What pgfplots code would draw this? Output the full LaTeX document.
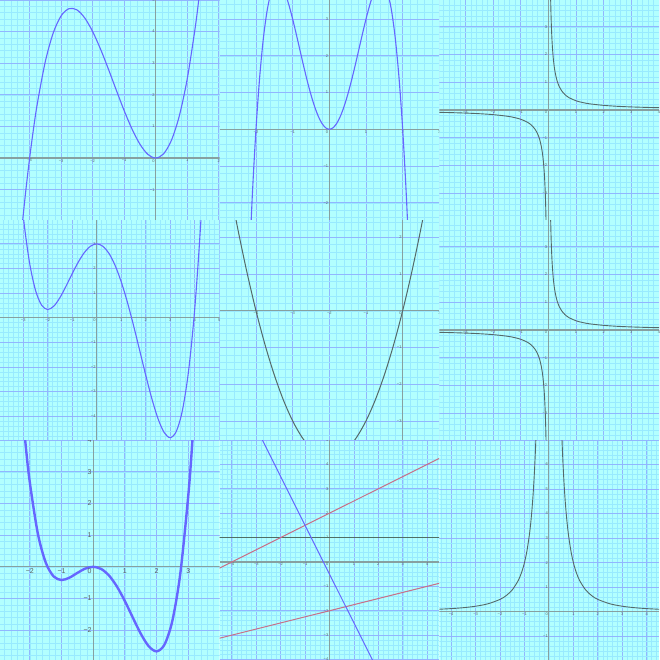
\documentclass[border=0pt]{standalone}
\usepackage{fontspec}
\setmainfont{Liberation Sans}
\usepackage{pgfplots}
\pgfplotsset{compat=1.18}
\definecolor{bgc}{RGB}{178,255,255}
\definecolor{minc}{RGB}{152,234,255}
\definecolor{majc}{RGB}{145,182,255}
\definecolor{axc}{RGB}{135,160,160}
\definecolor{labc}{RGB}{90,105,105}
\definecolor{bluec}{RGB}{102,102,255}
\definecolor{grayc}{RGB}{85,105,105}
\definecolor{redc}{RGB}{200,110,135}
\definecolor{hlc}{RGB}{80,110,100}
\newcommand\tlab{\pgfmathtruncatemacro\tv{round(\tick)}\ifnum\tv<0 −\number-\tv\else\tv\fi}
\pgfplotsset{panel/.style={scale only axis, width=219.67pt, height=220pt, anchor=north west,
  axis lines=middle, axis line style={axc, line width=1.1pt, -},
  axis background/.style={fill=bgc},
  grid=both, minor grid style={minc, line width=0.4pt}, major grid style={majc, line width=0.8pt},
  xtick={-8,-7,...,-1,1,2,...,8}, ytick={-8,-7,...,-1,1,2,...,8},
  minor xtick={-8,-7.8,...,8}, minor ytick={-8,-7.8,...,8},
  major tick length=0pt, minor tick length=0pt,
  xticklabel={\tlab}, yticklabel={\tlab},
  tick label style={font=\fontsize{4}{4.5}\selectfont, text=labc, inner sep=1pt},
  clip=true}}
\newcommand\orig{\node[anchor=north east, font=\fontsize{4}{4.5}\selectfont, text=labc, inner sep=1pt] at (axis cs:0,0) {0};}
\begin{document}
\begin{tikzpicture}
\useasboundingbox (0pt,0pt) rectangle (659pt,-660pt);
% P1
\begin{scope}\clip (0pt,0pt) rectangle (219.67pt,-220pt);
\begin{axis}[panel, at={(0pt,0pt)}, xmin=-4.94, xmax=2.03, ymin=-1.96, ymax=5.0]
\addplot[bluec, line width=1.1pt, smooth] coordinates {(-4.25,-2.258)(-4.125,-1.063)(-4,0)(-3.875,0.938)(-3.75,1.758)(-3.5,3.063)(-3.25,3.961)(-3,4.5)(-2.75,4.727)(-2.5,4.688)(-2.25,4.430)(-2,4)(-1.75,3.445)(-1.5,2.813)(-1.25,2.148)(-1,1.5)(-0.75,0.914)(-0.5,0.438)(-0.25,0.117)(0,0)(0.25,0.133)(0.5,0.563)(0.75,1.336)(1,2.5)(1.25,4.102)(1.375,5.081)(1.5,6.188)};
\orig
\end{axis}\end{scope}
% P2
\begin{scope}\clip (219.67pt,0pt) rectangle (439.33pt,-220pt);
\begin{axis}[panel, at={(219.67pt,0pt)}, xmin=-2.99, xmax=3.0, ymin=-2.47, ymax=3.52]
\addplot[bluec, line width=1.1pt, smooth] coordinates {(-2.2,-4.066)(-2.1,-1.808)(-2,0)(-1.9,1.408)(-1.8,2.462)(-1.7,3.208)(-1.6,3.686)(-1.5,3.938)(-1.4,3.998)(-1.3,3.904)(-1.2,3.686)(-1.1,3.376)(-1,3)(-0.9,2.584)(-0.8,2.150)(-0.7,1.720)(-0.6,1.310)(-0.5,0.938)(-0.4,0.614)(-0.3,0.352)(-0.2,0.158)(-0.1,0.040)(0,0)(0.1,0.040)(0.2,0.158)(0.3,0.352)(0.4,0.614)(0.5,0.938)(0.6,1.310)(0.7,1.720)(0.8,2.150)(0.9,2.584)(1,3)(1.1,3.376)(1.2,3.686)(1.3,3.904)(1.4,3.998)(1.5,3.938)(1.6,3.686)(1.7,3.208)(1.8,2.462)(1.9,1.408)(2,0)(2.1,-1.808)(2.2,-4.066)};
\orig
\end{axis}\end{scope}
% P3
\begin{scope}\clip (439.33pt,0pt) rectangle (659pt,-220pt);
\begin{axis}[panel, at={(439.33pt,0pt)}, xmin=-3.94, xmax=4.0, ymin=-3.97, ymax=3.97]
\addplot[grayc, line width=0.9pt, smooth] coordinates {(0.07,4.762)(0.08,4.167)(0.09,3.704)(0.1,3.333)(0.11,3.030)(0.12,2.778)(0.135,2.469)(0.15,2.222)(0.175,1.905)(0.2,1.667)(0.225,1.481)(0.25,1.333)(0.3,1.111)(0.35,0.952)(0.4,0.833)(0.5,0.667)(0.6,0.556)(0.75,0.444)(1,0.333)(1.25,0.267)(1.5,0.222)(2,0.167)(2.5,0.133)(3,0.111)(3.5,0.095)(4,0.083)(4.2,0.079)};
\addplot[grayc, line width=0.9pt, smooth] coordinates {(-4.2,-0.079)(-4,-0.083)(-3.5,-0.095)(-3,-0.111)(-2.5,-0.133)(-2,-0.167)(-1.5,-0.222)(-1.25,-0.267)(-1,-0.333)(-0.75,-0.444)(-0.6,-0.556)(-0.5,-0.667)(-0.4,-0.833)(-0.35,-0.952)(-0.3,-1.111)(-0.25,-1.333)(-0.225,-1.481)(-0.2,-1.667)(-0.175,-1.905)(-0.15,-2.222)(-0.135,-2.469)(-0.12,-2.778)(-0.11,-3.030)(-0.1,-3.333)(-0.09,-3.704)(-0.08,-4.167)(-0.07,-4.762)};
\orig
\end{axis}\end{scope}
% P4
\begin{scope}\clip (0pt,-220pt) rectangle (219.67pt,-440pt);
\begin{axis}[panel, at={(0pt,-220pt)}, xmin=-3.95, xmax=5.02, ymin=-4.97, ymax=3.97]
\addplot[bluec, line width=1.1pt, smooth] coordinates {(-3.25,6.823)(-3,4.125)(-2.75,2.271)(-2.5,1.112)(-2.25,0.508)(-2,0.333)(-1.75,0.471)(-1.5,0.820)(-1.25,1.287)(-1,1.792)(-0.75,2.266)(-0.5,2.654)(-0.25,2.909)(0,3)(0.25,2.904)(0.5,2.612)(0.75,2.125)(1,1.458)(1.25,0.635)(1.5,-0.305)(1.75,-1.315)(2,-2.333)(2.25,-3.288)(2.5,-4.096)(2.75,-4.661)(3,-4.875)(3.25,-4.619)(3.5,-3.763)(3.75,-2.164)(4,0.333)(4.25,3.894)(4.5,8.695)};
\orig
\end{axis}\end{scope}
% P5
\begin{scope}\clip (219.67pt,-220pt) rectangle (439.33pt,-440pt);
\begin{axis}[panel, at={(219.67pt,-220pt)}, xmin=-4.99, xmax=1.0, ymin=-3.52, ymax=2.47]
\addplot[grayc, line width=1.0pt, smooth] coordinates {(-5,5)(-4.75,3.563)(-4.5,2.25)(-4.25,1.063)(-4,0)(-3.75,-0.938)(-3.5,-1.75)(-3.25,-2.438)(-3,-3)(-2.75,-3.438)(-2.5,-3.75)(-2.25,-3.938)(-2,-4)(-1.75,-3.938)(-1.5,-3.75)(-1.25,-3.438)(-1,-3)(-0.75,-2.438)(-0.5,-1.75)(-0.25,-0.938)(0,0)(0.25,1.063)(0.5,2.25)(0.75,3.563)(1,5)};
\orig
\end{axis}\end{scope}
% P6
\begin{scope}\clip (439.33pt,-220pt) rectangle (659pt,-440pt);
\begin{axis}[panel, at={(439.33pt,-220pt)}, xmin=-3.94, xmax=4.0, ymin=-3.97, ymax=3.97]
\addplot[grayc, line width=0.9pt, smooth] coordinates {(0.07,4.762)(0.08,4.167)(0.09,3.704)(0.1,3.333)(0.11,3.030)(0.12,2.778)(0.135,2.469)(0.15,2.222)(0.175,1.905)(0.2,1.667)(0.225,1.481)(0.25,1.333)(0.3,1.111)(0.35,0.952)(0.4,0.833)(0.5,0.667)(0.6,0.556)(0.75,0.444)(1,0.333)(1.25,0.267)(1.5,0.222)(2,0.167)(2.5,0.133)(3,0.111)(3.5,0.095)(4,0.083)(4.2,0.079)};
\addplot[grayc, line width=0.9pt, smooth] coordinates {(-4.2,-0.079)(-4,-0.083)(-3.5,-0.095)(-3,-0.111)(-2.5,-0.133)(-2,-0.167)(-1.5,-0.222)(-1.25,-0.267)(-1,-0.333)(-0.75,-0.444)(-0.6,-0.556)(-0.5,-0.667)(-0.4,-0.833)(-0.35,-0.952)(-0.3,-1.111)(-0.25,-1.333)(-0.225,-1.481)(-0.2,-1.667)(-0.175,-1.905)(-0.15,-2.222)(-0.135,-2.469)(-0.12,-2.778)(-0.11,-3.030)(-0.1,-3.333)(-0.09,-3.704)(-0.08,-4.167)(-0.07,-4.762)};
\orig
\end{axis}\end{scope}
% P7
\begin{scope}\clip (0pt,-440pt) rectangle (219.67pt,-660pt);
\begin{axis}[panel, at={(0pt,-440pt)}, xmin=-2.94, xmax=3.99, ymin=-2.94, ymax=4.0,
  tick label style={font=\fontsize{7}{8}\selectfont, text={rgb,255:red,90;green,95;blue,95}, inner sep=1.5pt}]
\addplot[bluec, line width=2.4pt, smooth] coordinates {(-2.25,5.142)(-2.125,3.781)(-2,2.667)(-1.75,1.068)(-1.5,0.141)(-1.25,-0.301)(-1,-0.417)(-0.75,-0.343)(-0.5,-0.193)(-0.25,-0.056)(0,0)(0.25,-0.067)(0.5,-0.276)(0.75,-0.624)(1,-1.083)(1.25,-1.603)(1.5,-2.109)(1.75,-2.504)(2,-2.667)(2.25,-2.452)(2.5,-1.692)(2.75,-0.197)(3,2.25)(3.125,3.903)(3.25,5.886)};
\node[anchor=north east, font=\fontsize{7}{8}\selectfont, text={rgb,255:red,90;green,95;blue,95}, inner sep=1.5pt] at (axis cs:0,0) {0};
\end{axis}\end{scope}
% P8
\begin{scope}\clip (219.67pt,-440pt) rectangle (439.33pt,-660pt);
\begin{axis}[panel, at={(219.67pt,-440pt)}, xmin=-4.5, xmax=4.5, ymin=-4.02, ymax=5.0]
\addplot[hlc, line width=1.0pt] coordinates {(-4.6,1)(4.6,1)};
\addplot[redc, line width=1.0pt] coordinates {(-4.6,-0.3)(4.6,4.3)};
\addplot[redc, line width=1.0pt] coordinates {(-4.6,-3.15)(4.6,-0.85)};
\addplot[bluec, line width=1.0pt] coordinates {(-3,5.5)(2,-4.5)};
\orig
\end{axis}\end{scope}
% P9
\begin{scope}\clip (439.33pt,-440pt) rectangle (659pt,-660pt);
\begin{axis}[panel, at={(439.33pt,-440pt)}, xmin=-4.48, xmax=4.5, ymin=-1.97, ymax=7.0]
\addplot[grayc, line width=0.9pt, smooth] coordinates {(0.5,8)(0.55,6.612)(0.6,5.556)(0.65,4.734)(0.7,4.082)(0.75,3.556)(0.8,3.125)(0.9,2.469)(1,2)(1.1,1.653)(1.25,1.28)(1.5,0.889)(1.75,0.653)(2,0.5)(2.5,0.32)(3,0.222)(3.5,0.163)(4,0.125)(4.6,0.0945)};
\addplot[grayc, line width=0.9pt, smooth] coordinates {(-4.6,0.0945)(-4,0.125)(-3.5,0.163)(-3,0.222)(-2.5,0.32)(-2,0.5)(-1.75,0.653)(-1.5,0.889)(-1.25,1.28)(-1.1,1.653)(-1,2)(-0.9,2.469)(-0.8,3.125)(-0.75,3.556)(-0.7,4.082)(-0.65,4.734)(-0.6,5.556)(-0.55,6.612)(-0.5,8)};
\orig
\end{axis}\end{scope}
\end{tikzpicture}
\end{document}
